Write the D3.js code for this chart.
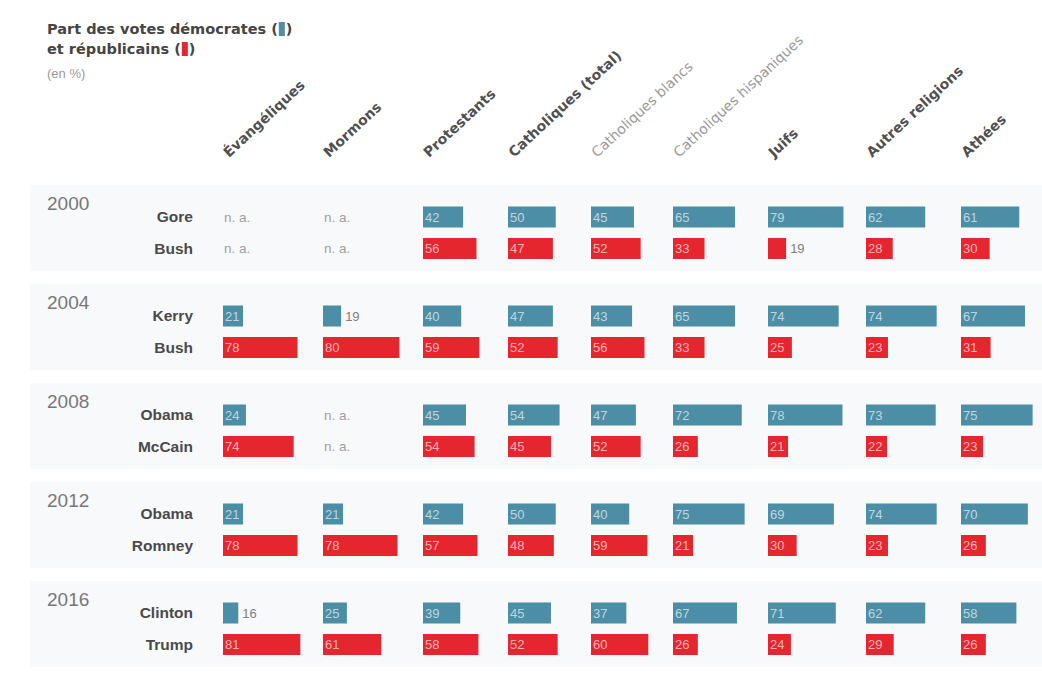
<!DOCTYPE html>
<html>
<head>
<meta charset="utf-8">
<script src="https://cdn.jsdelivr.net/npm/d3@7"></script>
<style>
  body { margin: 0; background: #fff; }
  svg { display: block; font-family: "Liberation Sans", Arial, sans-serif; }
  .wide { font-family: "DejaVu Sans", Verdana, sans-serif; }
</style>
</head>
<body>
<div id="chart"></div>
<script>
// Data
const categories = ["Évangéliques", "Mormons", "Protestants", "Catholiques (total)",
  "Catholiques blancs", "Catholiques hispaniques", "Juifs", "Autres religions", "Athées"];
const subCategories = ["Catholiques blancs", "Catholiques hispaniques"];
const years = [2000, 2004, 2008, 2012, 2016];
const demCandidates = ["Gore", "Kerry", "Obama", "Obama", "Clinton"];
const repCandidates = ["Bush", "Bush", "McCain", "Romney", "Trump"];

// null = n. a.
const demValues = [
  [null, null, 42, 50, 45, 65, 79, 62, 61],
  [21, 19, 40, 47, 43, 65, 74, 74, 67],
  [24, null, 45, 54, 47, 72, 78, 73, 75],
  [21, 21, 42, 50, 40, 75, 69, 74, 70],
  [16, 25, 39, 45, 37, 67, 71, 62, 58]
];
const repValues = [
  [null, null, 56, 47, 52, 33, 19, 28, 30],
  [78, 80, 59, 52, 56, 33, 25, 23, 31],
  [74, null, 54, 45, 52, 26, 21, 22, 23],
  [78, 78, 57, 48, 59, 21, 30, 23, 26],
  [81, 61, 58, 52, 60, 26, 24, 29, 26]
];

const blue = "#4b8ea6";
const red = "#e5262f";
const width = 1042, height = 676;

const svg = d3.select("#chart")
  .append("svg")
  .attr("width", width)
  .attr("height", height);

// Scales
const x = d3.scaleLinear().domain([0, 100]).range([0, 95.5]);
const col = d3.scaleOrdinal()
  .domain(categories)
  .range([223, 323, 423, 508, 591, 673, 768, 866, 961]);
const yGroup = d3.scalePoint().domain(years).range([217, 613]);
const yParty = d3.scaleOrdinal().domain(["dem", "rep"]).range([0, 31.5]);
const barH = 21;

// Faint bands behind each election
svg.selectAll(".band")
  .data(years)
  .enter()
  .append("rect")
  .attr("class", "band")
  .attr("x", 30)
  .attr("y", d => yGroup(d) - 32)
  .attr("width", width - 30)
  .attr("height", 86)
  .attr("fill", "#f8f9fa");

// Title
function titleLine(txt, y, color) {
  const t = svg.append("text")
    .attr("class", "wide")
    .attr("x", 47).attr("y", y)
    .attr("font-size", 14.5).attr("font-weight", "bold").attr("fill", "#454545")
    .text(txt);
  const w = t.node().getComputedTextLength();
  svg.append("rect")
    .attr("x", 47 + w + 1).attr("y", y - 12)
    .attr("width", 6).attr("height", 14)
    .attr("fill", color);
  svg.append("text")
    .attr("class", "wide")
    .attr("x", 47 + w + 8).attr("y", y)
    .attr("font-size", 14.5).attr("font-weight", "bold").attr("fill", "#454545")
    .text(")");
}
titleLine("Part des votes démocrates (", 34, blue);
titleLine("et républicains (", 54, red);
svg.append("text")
  .attr("x", 47).attr("y", 78)
  .attr("font-size", 13).attr("fill", "#999")
  .text("(en %)");

// Column headers
svg.selectAll(".header")
  .data(categories)
  .enter()
  .append("text")
  .attr("class", "header wide")
  .attr("transform", d => `translate(${col(d) + 6},158) rotate(-43)`)
  .attr("font-size", 14)
  .attr("font-weight", d => subCategories.includes(d) ? "normal" : "bold")
  .attr("fill", d => subCategories.includes(d) ? "#9a9a9a" : "#505050")
  .text(d => d);

// Year labels
svg.selectAll(".year")
  .data(years)
  .enter()
  .append("text")
  .attr("class", "year")
  .attr("x", 47)
  .attr("y", d => yGroup(d) - 7)
  .attr("font-size", 19)
  .attr("fill", "#777")
  .text(d => d);

// Rows
const rows = [];
years.forEach((yr, i) => {
  rows.push({ year: yr, party: "dem", name: demCandidates[i], values: demValues[i] });
  rows.push({ year: yr, party: "rep", name: repCandidates[i], values: repValues[i] });
});
const rowY = r => yGroup(r.year) + yParty(r.party);

svg.selectAll(".cand")
  .data(rows)
  .enter()
  .append("text")
  .attr("class", "cand")
  .attr("x", 193)
  .attr("y", rowY)
  .attr("dy", "0.35em")
  .attr("text-anchor", "end")
  .attr("font-size", 15.5)
  .attr("font-weight", "bold")
  .attr("fill", "#4a4a4a")
  .text(d => d.name);

const cells = [];
rows.forEach(r => {
  r.values.forEach((v, j) => cells.push({ row: r, cat: categories[j], value: v }));
});

// Bars
svg.selectAll(".bar")
  .data(cells.filter(d => d.value !== null))
  .enter()
  .append("rect")
  .attr("class", "bar")
  .attr("x", d => col(d.cat))
  .attr("y", d => rowY(d.row) - barH / 2)
  .attr("width", d => x(d.value))
  .attr("height", barH)
  .attr("fill", d => d.row.party === "dem" ? blue : red);

// Value labels
svg.selectAll(".val")
  .data(cells)
  .enter()
  .append("text")
  .attr("class", "val")
  .attr("x", d => d.value === null ? col(d.cat) + 1
    : d.value < 20 ? col(d.cat) + x(d.value) + 4 : col(d.cat) + 2)
  .attr("y", d => rowY(d.row))
  .attr("dy", "0.35em")
  .attr("font-size", d => d.value === null ? 13.5 : 13)
  .attr("fill", d => d.value === null ? "#a0a0a0" : d.value < 20 ? "#808080" : "#fff")
  .attr("fill-opacity", d => d.value !== null && d.value >= 20 ? 0.65 : 1)
  .text(d => d.value === null ? "n. a." : d.value);
</script>
</body>
</html>
